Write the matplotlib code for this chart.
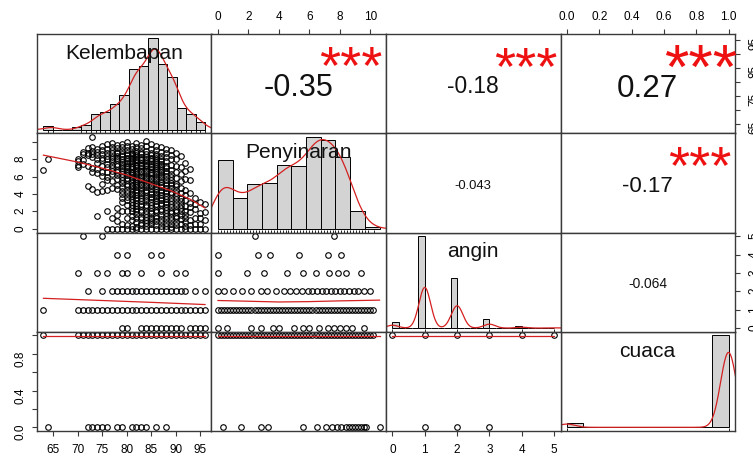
import numpy as np
import matplotlib.pyplot as plt
from matplotlib.transforms import blended_transform_factory
from matplotlib.textpath import TextPath
from matplotlib.font_manager import FontProperties

plt.rcParams['font.family'] = ['Liberation Sans', 'DejaVu Sans']

names = ['Kelembapan', 'Penyinaran', 'angin', 'cuaca']

# distinct values and how often they occur
kel_vals = [63, 64, 70, 71, 72, 73, 74, 75, 76, 77, 78, 79, 80, 81, 82, 83, 84,
            85, 86, 87, 88, 89, 90, 91, 92, 93, 94, 95, 96]
kel_counts = [2, 3, 4, 3, 4, 10, 11, 12, 12, 17, 18, 22, 26, 42, 43, 44, 45,
              66, 62, 47, 44, 38, 35, 16, 14, 12, 10, 6, 4]

peny_vals = [0.0, 0.2, 0.4, 0.6, 0.8, 1.0, 1.2, 1.4, 1.6, 1.8, 2.0, 2.2, 2.4, 2.6,
             2.8, 3.0, 3.2, 3.4, 3.6, 3.8, 4.0, 4.2, 4.4, 4.6, 4.8, 5.0, 5.2, 5.4,
             5.6, 5.8, 6.0, 6.2, 6.4, 6.6, 6.8, 7.0, 7.2, 7.4, 7.6, 7.8, 8.0, 8.2,
             8.4, 8.6, 8.8, 9.0, 9.2, 9.4, 9.6, 9.8, 10.0, 10.2, 10.6]
peny_counts = [30, 10, 10, 10, 10, 9, 8, 7, 7, 6, 7, 9, 10, 10,
               11, 11, 10, 10, 10, 11, 11, 13, 14, 15, 15, 16, 14, 14,
               14, 15, 15, 18, 20, 22, 22, 23, 22, 21, 20, 19, 19, 19,
               18, 17, 15, 13, 7, 5, 4, 3, 1, 1, 1]

angin_vals = [0, 1, 2, 3, 4, 5]
angin_counts = [27, 386, 212, 37, 8, 2]

cuaca_vals = [0, 1]
cuaca_counts = [28, 644]

# scatter: Penyinaran values seen at each Kelembapan value
kel_peny = {
    63: [6.8], 64: [8.1],
    70: [7.1, 7.4, 7.8, 8.1],
    71: [7.5, 7.9, 8.6, 8.9],
    72: [4.9, 7.2, 8.5, 8.8, 9.3],
    73: [4.6, 6.6, 7.0, 8.3, 8.6, 9.0, 9.4, 10.6],
    74: [1.5, 4.3, 6.4, 6.9, 7.6, 8.1, 8.5, 8.9, 9.2],
    75: [4.4, 5.2, 6.1, 6.5, 7.3, 7.9, 8.2, 8.6, 9.1, 9.6],
    76: [0.0, 2.0, 4.5, 5.6, 6.0, 6.6, 7.1, 7.5, 8.0, 8.4, 8.7, 9.2, 9.8],
    77: [0.0, 1.2, 4.7, 5.5, 6.3, 6.7, 7.0, 7.4, 7.8, 8.1, 8.3, 8.8, 9.1, 9.4, 9.9],
    78: [0.0, 0.9, 1.6, 2.4, 4.6, 5.1, 5.8, 6.2, 6.5, 6.8, 7.2, 7.5, 7.9, 8.2, 8.4,
         8.7, 8.9, 9.3, 9.7],
    79: [0.0, 0.6, 2.0, 3.1, 3.6, 4.0, 4.4, 4.8, 5.3, 5.6, 6.0, 6.3, 6.7, 7.0, 7.2,
         7.5, 7.7, 8.1, 8.4, 8.6, 9.0, 9.4, 9.8],
    80: [0.0, 0.4, 1.3, 2.1, 2.8, 3.3, 3.7, 4.1, 4.5, 4.9, 5.2, 5.6, 5.9, 6.2, 6.4,
         6.7, 6.9, 7.1, 7.3, 7.6, 7.8, 8.0, 8.2, 8.5, 8.7, 9.1, 9.5, 10.0],
    81: [0.0, 0.3, 1.0, 1.5, 2.0, 2.4, 2.7, 3.1, 3.4, 3.8, 4.0, 4.3, 4.6, 4.9, 5.1,
         5.4, 5.7, 6.0, 6.2, 6.4, 6.6, 6.9, 7.1, 7.3, 7.6, 7.8, 8.0, 8.2, 8.4, 8.6,
         8.8, 9.2, 9.6],
    82: [0.0, 0.2, 0.8, 1.2, 1.7, 2.0, 2.3, 2.6, 3.0, 3.3, 3.6, 3.9, 4.2, 4.5, 4.8,
         5.0, 5.3, 5.5, 5.8, 6.0, 6.3, 6.5, 6.8, 7.0, 7.2, 7.4, 7.7, 7.9, 8.1, 8.3,
         8.5, 8.7, 9.0, 9.4, 9.9],
    83: [0.0, 0.4, 0.7, 1.1, 1.4, 1.9, 2.2, 2.6, 2.9, 3.2, 3.5, 3.9, 4.1, 4.4, 4.7,
         5.0, 5.2, 5.5, 5.8, 6.0, 6.2, 6.5, 6.7, 7.0, 7.2, 7.4, 7.6, 7.9, 8.1, 8.3,
         8.6, 8.9, 9.3, 9.7],
    84: [0.0, 0.3, 0.7, 1.0, 1.4, 1.7, 2.0, 2.5, 2.8, 3.3, 3.6, 3.8, 4.2, 4.5, 4.8,
         5.1, 5.3, 5.6, 5.9, 6.1, 6.4, 6.7, 6.9, 7.2, 7.4, 7.6, 7.8, 8.1, 8.3, 8.6,
         9.0, 9.5, 10.1],
    85: [0.0, 0.5, 0.8, 1.0, 1.3, 1.8, 2.1, 2.4, 2.7, 3.1, 3.4, 3.7, 4.0, 4.3, 4.6,
         4.9, 5.1, 5.4, 5.7, 5.9, 6.2, 6.4, 6.6, 6.9, 7.1, 7.3, 7.5, 7.8, 8.0, 8.2,
         8.5, 8.7, 9.2, 9.8],
    86: [0.0, 0.4, 0.9, 1.2, 1.5, 1.9, 2.2, 2.6, 2.9, 3.2, 3.5, 3.8, 4.0, 4.3, 4.6,
         4.9, 5.2, 5.5, 5.8, 6.0, 6.3, 6.5, 6.8, 7.0, 7.2, 7.5, 7.7, 7.9, 8.2, 8.4,
         8.6, 9.1, 9.6],
    87: [0.0, 0.3, 0.8, 1.1, 1.6, 2.0, 2.3, 2.7, 3.0, 3.3, 3.6, 3.9, 4.2, 4.5, 4.8,
         5.1, 5.4, 5.7, 6.0, 6.2, 6.5, 6.8, 7.0, 7.3, 7.5, 7.8, 8.0, 8.4, 8.9, 9.4],
    88: [0.0, 0.3, 0.7, 1.1, 1.5, 1.8, 2.2, 2.5, 2.9, 3.1, 3.4, 3.8, 4.1, 4.4, 4.7,
         5.0, 5.3, 5.6, 6.1, 6.4, 6.7, 7.0, 7.3, 7.8, 8.3, 8.7, 9.2],
    89: [0.0, 0.2, 0.6, 1.0, 1.4, 1.8, 2.1, 2.5, 2.9, 3.2, 3.6, 4.0, 4.3, 4.7, 5.0,
         5.3, 5.6, 6.0, 6.3, 6.8, 7.4, 8.0, 8.5, 9.1],
    90: [0.0, 0.4, 0.8, 1.2, 1.5, 1.9, 2.2, 2.6, 3.0, 3.4, 3.8, 4.1, 4.5, 4.9, 5.2,
         5.9, 6.6, 7.3, 8.0, 8.8],
    91: [0.0, 0.5, 1.1, 1.6, 2.0, 2.4, 2.8, 3.2, 3.6, 4.1, 4.7, 5.5, 6.3, 7.1, 8.4],
    92: [0.0, 0.3, 0.8, 1.2, 1.6, 2.1, 2.6, 3.3, 3.9, 4.5, 5.8, 6.7, 7.6],
    93: [0.0, 0.4, 1.0, 1.9, 2.5, 3.0, 4.1, 5.6, 6.9],
    94: [0.0, 0.6, 1.2, 2.3, 2.9, 3.5],
    95: [0.0, 0.6, 1.3, 1.8, 3.1],
    96: [0.0, 1.0, 1.9, 2.9],
}

# scatter: Kelembapan values seen at each angin level
angin_kel = {
    5: [71, 75],
    4: [78, 80, 85, 87],
    3: [70, 74, 76, 79, 80, 83, 87, 90, 92],
    2: [72, 75, 77, 78, 79, 80, 81, 82, 83, 84, 85, 86, 87, 88, 89, 90, 91, 92, 94, 96],
    1: [63, 70, 71, 72, 73, 74, 75, 76, 77, 78, 79, 80, 81, 82, 83, 84, 85, 86, 87,
        88, 89, 90, 91, 92, 93, 94, 95, 96],
    0: [79, 80, 83, 84, 85, 86, 87, 88, 89, 90, 91, 93, 94, 95, 96],
}

# scatter: Penyinaran values seen at each angin level
angin_peny = {
    5: [2.4, 7.6],
    4: [0.0, 2.6, 3.4, 5.3, 7.2, 8.1],
    3: [0.0, 1.9, 3.0, 4.5, 5.6, 6.4, 7.3, 7.9, 8.4, 9.4],
    2: [0.0, 0.4, 1.0, 1.6, 2.2, 2.8, 3.2, 3.8, 4.3, 4.7, 5.1, 5.5, 5.9, 6.2, 6.5,
        6.8, 7.1, 7.4, 7.7, 8.0, 8.3, 8.6, 8.9, 9.2, 9.6, 10.0],
    1: peny_vals[:-1],
    0: [0.0, 0.6, 2.2, 2.8, 3.6, 4.0, 5.0, 5.6, 6.0, 6.6, 7.2, 7.6, 8.0, 8.4, 8.8, 9.6],
}

# scatter: cuaca against the other three
cuaca_kel = {0: [64, 72, 73, 74, 75, 76, 78, 79, 81, 82, 83, 84, 86, 88],
             1: [63] + kel_vals[2:]}
cuaca_peny = {0: [0.3, 1.5, 2.8, 3.3, 5.6, 6.5, 7.1, 7.5, 7.8, 8.1, 8.4, 8.6,
                  8.8, 9.0, 9.2, 9.4, 9.6, 9.7, 10.6],
              1: peny_vals[:-1]}
cuaca_angin = {0: [1, 2, 3], 1: [0, 1, 2, 3, 4, 5]}

# smoother lines
smooth = {
    (1, 0): ([63, 70, 75, 80, 85, 89, 93, 96], [8.5, 7.7, 7.0, 6.2, 5.2, 4.4, 3.4, 2.4]),
    (2, 0): ([63, 75, 85, 96], [1.62, 1.5, 1.4, 1.28]),
    (2, 1): ([0, 2, 4, 6, 8, 10.6], [1.5, 1.46, 1.42, 1.44, 1.48, 1.52]),
    (3, 0): ([63, 96], [0.99, 0.99]),
    (3, 1): ([0, 10.6], [0.99, 0.99]),
    (3, 2): ([0, 5], [0.99, 0.99]),
}

# correlations (upper panels)
cor_i = [0, 0, 0, 1, 1, 2]
cor_j = [1, 2, 3, 2, 3, 3]
cor_r = [-0.35, -0.18, 0.27, -0.043, -0.17, -0.064]
cor_txt = ['-0.35', '-0.18', '0.27', '-0.043', '-0.17', '-0.064']
cor_sig = ['***', '***', '***', '', '***', '']

values = [kel_vals, peny_vals, angin_vals, cuaca_vals]
counts = [kel_counts, peny_counts, angin_counts, cuaca_counts]
breaks = [np.arange(62, 97, 2.0), np.arange(0, 12, 1.0),
          np.round(np.arange(0, 5.01, 0.2), 6), np.round(np.arange(0, 1.01, 0.1), 6)]


def hist_counts(v, c, br):
    # right-closed bins like R's hist()
    idx = np.clip(np.searchsorted(br, v, side='left') - 1, 0, len(br) - 2)
    h = np.zeros(len(br) - 1)
    np.add.at(h, idx, c)
    return h


def kde(v, c):
    x = np.repeat(v, c)
    n = len(x)
    sd = x.std(ddof=1)
    q75, q25 = np.percentile(x, [75, 25])
    lo = min(sd, (q75 - q25) / 1.34)
    if lo == 0:
        lo = sd
    bw = 0.9 * lo * n ** -0.2
    g = np.linspace(x.min() - 3 * bw, x.max() + 3 * bw, 512)
    d = (c[None, :] * np.exp(-0.5 * ((g[:, None] - v[None, :]) / bw) ** 2)).sum(1)
    return g, d / (n * bw * np.sqrt(2 * np.pi))


def rng(v):
    lo, hi = min(v), max(v)
    return lo - 0.04 * (hi - lo), hi + 0.04 * (hi - lo)


lims = [rng(v) for v in values]

W, H, DPI = 753, 460, 100
fig = plt.figure(figsize=(W / DPI, H / DPI), dpi=DPI)
L, R, T, B = 37, 735, 35, 432
pw, ph = (R - L) / 4, (B - T) / 4
edge = '#3a3a3a'
red = '#d42020'
renderer = fig.canvas.get_renderer()
fp = FontProperties(family='Liberation Sans')


def text_width(s, size):
    t = fig.text(0, 0, s, fontsize=size)
    w = t.get_window_extent(renderer).width
    t.remove()
    return w


def ink(s, size):
    return TextPath((0, 0), s, size=size * DPI / 72, prop=fp).get_extents()


def ink_mid(s, size):
    e = ink(s, size)
    return (e.y0 + e.y1) / 2


def panel(i, j):
    ax = fig.add_axes([(L + j * pw) / W, 1 - (T + (i + 1) * ph) / H, pw / W, ph / H])
    for s in ax.spines.values():
        s.set_color(edge)
        s.set_linewidth(1.0)
    ax.tick_params(which='both', top=False, bottom=False, left=False, right=False,
                   labeltop=False, labelbottom=False, labelleft=False, labelright=False,
                   length=3.6, width=0.8, color=edge, labelsize=8.5)
    ax.tick_params(axis='x', pad=5)
    ax.tick_params(axis='y', pad=3.8, labelrotation=90)
    return ax


axes = {}

# diagonal: histograms with density and rug
lab_fs = 10 * 118 / text_width('Kelembapan', 10)
for k in range(4):
    ax = panel(k, k)
    axes[(k, k)] = ax
    v = np.array(values[k], float)
    c = np.array(counts[k])
    br = breaks[k]
    dens = hist_counts(v, c, br) / (c.sum() * np.diff(br))
    ax.bar(br[:-1], dens, width=np.diff(br), align='edge', color='#d3d3d3',
           edgecolor='black', linewidth=0.7)
    gx, gy = kde(v, c)
    ax.plot(gx, gy, color=red, lw=0.9)
    span = br[-1] - br[0]
    ax.set_xlim(br[0] - 0.04 * span, br[-1] + 0.04 * span)
    m = dens.max()
    ax.set_ylim(-0.04 * m, 1.04 * m)
    tr = blended_transform_factory(ax.transData, ax.transAxes)
    ax.vlines(v, 0, 0.03, transform=tr, color='black', lw=0.6)
    ax.text(0.5, (0.833 * ph - ink_mid('H', lab_fs)) / ph, names[k], transform=ax.transAxes,
            ha='center', va='baseline', fontsize=lab_fs, color='#111111')


def pts(ax, x, y):
    ax.plot(x, y, 'o', mfc='none', mec='black', ms=4.0, mew=0.8, ls='none')


# lower panels: scatter plots
pairs = {
    (1, 0): [(kx, py) for kx, ys in kel_peny.items() for py in ys],
    (2, 0): [(kx, a) for a, xs in angin_kel.items() for kx in xs],
    (2, 1): [(px, a) for a, xs in angin_peny.items() for px in xs],
    (3, 0): [(kx, cu) for cu, xs in cuaca_kel.items() for kx in xs],
    (3, 1): [(px, cu) for cu, xs in cuaca_peny.items() for px in xs],
    (3, 2): [(an, cu) for cu, xs in cuaca_angin.items() for an in xs],
}
for (i, j), p in pairs.items():
    ax = panel(i, j)
    axes[(i, j)] = ax
    p = np.array(p, float)
    pts(ax, p[:, 0], p[:, 1])
    sx, sy = smooth[(i, j)]
    ax.plot(sx, sy, color=red, lw=0.9)
    ax.set_xlim(lims[j])
    ax.set_ylim(lims[i])

# upper panels: correlation values and stars
for i, j, r, txt, sig in zip(cor_i, cor_j, cor_r, cor_txt, cor_sig):
    ax = panel(i, j)
    axes[(i, j)] = ax
    ax.set_xlim(lims[j])
    ax.set_ylim(lims[i])
    full = 10 * pw * 0.8 / text_width(txt, 10)
    fs = full * (abs(r) + 0.3) / 1.3
    target = 0.5 * ph - 0.04 * fs * DPI / 72
    ax.text(0.5, (target - ink_mid(txt, fs)) / ph, txt, transform=ax.transAxes,
            ha='center', va='baseline', fontsize=fs, color='#111111')
    if sig:
        full_px = full * DPI / 72
        e = ink(sig, full)
        s_w = full * 1.03 * full_px / e.width
        s_h = full * 0.30 * full_px / e.height
        sfs = np.sqrt(s_w * s_h)
        ax.text(0.8, (0.79 * ph - ink_mid(sig, sfs)) / ph, sig, transform=ax.transAxes,
                ha='center', va='baseline', fontsize=sfs, color='#ee1111')

# outer axes
ax = axes[(0, 1)]
ax.set_xticks([0, 2, 4, 6, 8, 10], ['0', '2', '4', '6', '8', '10'])
ax.tick_params(axis='x', top=True, labeltop=True)
ax = axes[(0, 3)]
ax.set_xticks([0, 0.2, 0.4, 0.6, 0.8, 1.0], ['0.0', '0.2', '0.4', '0.6', '0.8', '1.0'])
ax.tick_params(axis='x', top=True, labeltop=True)
ax.set_yticks([65, 70, 75, 80, 85, 90, 95], ['65', '', '75', '', '85', '', '95'])
ax.tick_params(axis='y', right=True, labelright=True, pad=6)
ax = axes[(2, 3)]
ax.set_yticks([0, 1, 2, 3, 4, 5], ['0', '1', '2', '3', '4', '5'])
ax.tick_params(axis='y', right=True, labelright=True, pad=6)
ax = axes[(1, 0)]
ax.set_yticks([0, 2, 4, 6, 8, 10], ['0', '2', '4', '6', '8', ''])
ax.tick_params(axis='y', left=True, labelleft=True)
ax = axes[(3, 0)]
ax.set_yticks([0, 0.2, 0.4, 0.6, 0.8, 1.0], ['0.0', '', '0.4', '', '0.8', ''])
ax.tick_params(axis='y', left=True, labelleft=True)
ax.set_xticks([65, 70, 75, 80, 85, 90, 95], ['65', '70', '75', '80', '85', '90', '95'])
ax.tick_params(axis='x', bottom=True, labelbottom=True)
ax = axes[(3, 2)]
ax.set_xticks([0, 1, 2, 3, 4, 5], ['0', '1', '2', '3', '4', '5'])
ax.tick_params(axis='x', bottom=True, labelbottom=True)

fig.savefig('out.png', dpi=DPI)
